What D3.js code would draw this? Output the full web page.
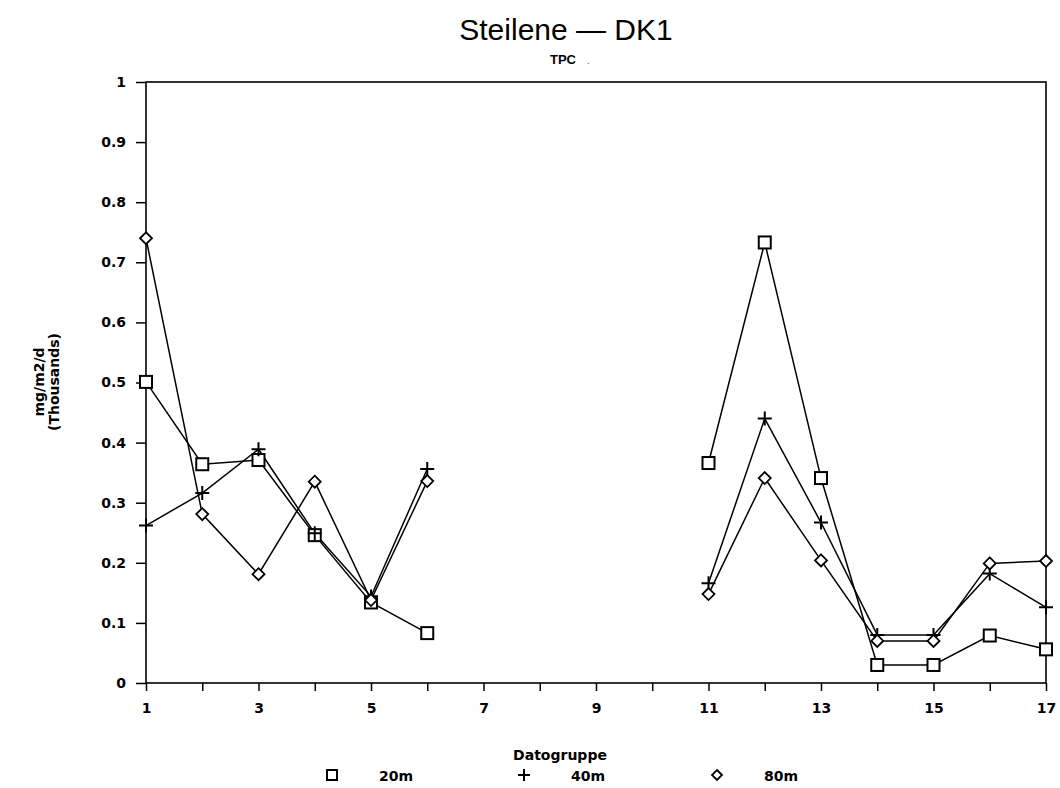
<!DOCTYPE html>
<html><head><meta charset="utf-8">
<script src="https://cdn.jsdelivr.net/npm/d3@7"></script>
<style>body{margin:0;background:#fff}svg{display:block}</style>
</head><body><svg id="c" width="1060" height="788"></svg>
<script>
const groups = [1,2,3,4,5,6,7,8,9,10,11,12,13,14,15,16,17];
const s20m = [0.501,0.364,0.371,0.246,0.134,0.083,null,null,null,null,0.366,0.733,0.341,0.030,0.030,0.079,0.056];
const s40m = [0.262,0.316,0.389,0.249,0.144,0.356,null,null,null,null,0.166,0.440,0.267,0.080,0.080,0.182,0.126];
const s80m = [0.740,0.281,0.181,0.335,0.138,0.336,null,null,null,null,0.148,0.341,0.204,0.070,0.070,0.199,0.203];
const seriesNames = ["20m","40m","80m"];
const xTickLabels = [1,3,5,7,9,11,13,15,17];
const yTicks = [0,0.1,0.2,0.3,0.4,0.5,0.6,0.7,0.8,0.9,1];

const svg = d3.select("#c");
const L=146,R=1046,T=82,B=683;
const x = d3.scaleLinear().domain([1,17]).range([L,R]);
const y = d3.scaleLinear().domain([0,1]).range([B,T]);
const lab = "'DejaVu Sans', sans-serif";

// frame
svg.append("rect").attr("x",L).attr("y",T).attr("width",R-L).attr("height",B-T)
  .attr("fill","none").attr("stroke","#000").attr("stroke-width",1.6);

// y axis
const ya = svg.append("g").attr("transform",`translate(${L},0)`)
  .call(d3.axisLeft(y).tickValues(yTicks).tickSize(10).tickPadding(10)
    .tickFormat(d=>d===0?"0":d===1?"1":d3.format(".1f")(d)));
ya.select(".domain").remove();
ya.selectAll(".tick line").attr("stroke","#000").attr("stroke-width",1.5);
ya.selectAll(".tick text").attr("font-family",lab).attr("font-size",14).attr("font-weight","bold").attr("fill","#000");

// x axis
const xa = svg.append("g").attr("transform",`translate(0,${B})`)
  .call(d3.axisBottom(x).tickValues(groups).tickSize(8).tickPadding(12)
    .tickFormat(d=>xTickLabels.includes(d)?d:""));
xa.select(".domain").remove();
xa.selectAll(".tick line").attr("stroke","#000").attr("stroke-width",1.5);
xa.selectAll(".tick text").attr("font-family",lab).attr("font-size",14).attr("font-weight","bold").attr("fill","#000");

// lines
const allSeries = [s20m,s40m,s80m];
const line = d3.line().defined(d=>d[1]!==null).x(d=>x(d[0])).y(d=>y(d[1]));
allSeries.forEach(s=>{
  svg.append("path").datum(groups.map((g,i)=>[g,s[i]]))
    .attr("d",line).attr("fill","none").attr("stroke","#000").attr("stroke-width",1.5);
});

function marker(g,type,cx,cy){
  if(type===0){
    g.append("rect").attr("x",cx-6).attr("y",cy-6).attr("width",12).attr("height",12)
      .attr("fill","#fff").attr("stroke","#000").attr("stroke-width",2);
  } else if(type===1){
    g.append("path").attr("d",`M${cx-7},${cy}H${cx+7}M${cx},${cy-7}V${cy+7}`)
      .attr("stroke","#000").attr("stroke-width",2).attr("fill","none");
  } else {
    g.append("path").attr("d",`M${cx},${cy-6}L${cx+6},${cy}L${cx},${cy+6}L${cx-6},${cy}Z`)
      .attr("fill","#fff").attr("stroke","#000").attr("stroke-width",1.8);
  }
}
const mg = svg.append("g");
allSeries.forEach((s,k)=>{
  groups.forEach((g,i)=>{ if(s[i]!==null) marker(mg,k,x(g),y(s[i])); });
});

// titles
svg.append("text").attr("x",566).attr("y",40).attr("text-anchor","middle")
  .attr("font-family","'Liberation Sans Narrow','Liberation Sans',sans-serif").attr("font-size",30)
  .attr("fill","#000").text("Steilene \u2014 DK1");
svg.append("text").attr("x",563).attr("y",64).attr("text-anchor","middle")
  .attr("font-family","'Liberation Sans',sans-serif").attr("font-weight","bold").attr("font-size",13)
  .attr("fill","#000").text("TPC");
svg.append("text").attr("x",587).attr("y",64).attr("font-size",10).attr("fill","#555").text(".");

// y label
const yl = svg.append("text").attr("transform","translate(44,382) rotate(-90)")
  .attr("text-anchor","middle").attr("font-family",lab).attr("font-size",14).attr("font-weight","bold").attr("fill","#000");
yl.append("tspan").attr("x",0).attr("dy",0).text("mg/m2/d");
yl.append("tspan").attr("x",0).attr("dy",15).text("(Thousands)");

// x label
svg.append("text").attr("x",560).attr("y",760).attr("text-anchor","middle")
  .attr("font-family",lab).attr("font-size",14).attr("font-weight","bold").attr("fill","#000").text("Datogruppe");

// legend
const legX = [332,524,717];
const leg = svg.append("g");
seriesNames.forEach((n,k)=>{
  const cx = legX[k], cy = 775;
  if(k===0) leg.append("rect").attr("x",cx-5).attr("y",cy-5).attr("width",10).attr("height",10)
      .attr("fill","#fff").attr("stroke","#000").attr("stroke-width",2);
  else if(k===1) leg.append("path").attr("d",`M${cx-6},${cy}H${cx+6}M${cx},${cy-6}V${cy+6}`).attr("stroke","#000").attr("stroke-width",2);
  else leg.append("path").attr("d",`M${cx},${cy-5}L${cx+5},${cy}L${cx},${cy+5}L${cx-5},${cy}Z`).attr("fill","#fff").attr("stroke","#000").attr("stroke-width",1.8);
  leg.append("text").attr("x",cx+47).attr("y",cy+6).attr("font-family",lab).attr("font-size",14)
    .attr("font-weight","bold").attr("fill","#000").text(n);
});
</script></body></html>
